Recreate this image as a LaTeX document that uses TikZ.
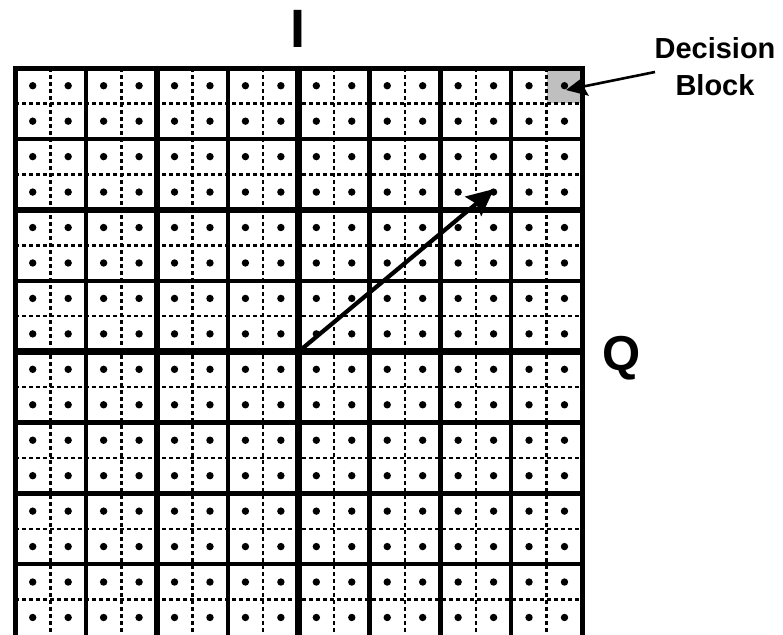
\documentclass[tikz,border=0pt]{standalone}
\usepackage{fontspec}
\setmainfont{Liberation Sans}
\usetikzlibrary{arrows.meta}
\begin{document}
\begin{tikzpicture}[x=1pt,y=-1pt,
  subline/.style={line width=2.6pt, dash pattern=on 4.4pt off 2.6pt},
  blockline/.style={line width=4.2pt},
  midline/.style={line width=5.8pt},
  axisline/.style={line width=6.5pt},
  borderline/.style={line width=5pt},
  dotmark/.style={fill=black},
  lab/.style={inner sep=0pt, font=\bfseries},
  bigarrow/.style={line width=4.2pt, -{Stealth[length=27pt,width=25pt,inset=4pt]}},
  smallarrow/.style={line width=2.6pt, -{Stealth[length=21pt,width=20pt,inset=3pt]}}]
\useasboundingbox (0,0) rectangle (783,634);
\clip (0,0) rectangle (783,634);
% decision block fill
\fill[gray!50] ({15+15*35.45},68) rectangle ({15+16*35.45},{68+35.45});
% dashed sub-lines
\foreach \i in {1,3,...,15} {
  \draw[subline] ({15+\i*35.45},68) -- ({15+\i*35.45},650);
  \draw[subline] (15,{68+\i*35.45}) -- ({15+16*35.45},{68+\i*35.45});
}
% block lines
\foreach \k in {1,3,5,7} {
  \draw[blockline] ({15+\k*70.9},68) -- ({15+\k*70.9},650);
  \draw[blockline] (15,{68+\k*70.9}) -- ({15+8*70.9},{68+\k*70.9});
}
\foreach \k in {2,6} {
  \draw[midline] ({15+\k*70.9},68) -- ({15+\k*70.9},650);
  \draw[midline] (15,{68+\k*70.9}) -- ({15+8*70.9},{68+\k*70.9});
}
\draw[axisline] ({15+4*70.9},68) -- ({15+4*70.9},650);
\draw[axisline] (15,{68+4*70.9}) -- ({15+8*70.9},{68+4*70.9});
% border
\draw[borderline] (15,650) -- (15,68) -- ({15+8*70.9},68) -- ({15+8*70.9},650);
% dots
\foreach \i in {0,...,15} {
  \foreach \j in {0,...,15} {
    \fill[dotmark] ({15+(\i+0.5)*35.45},{68+(\j+0.5)*35.45}) circle (3.7pt);
  }
}
% labels
\node[lab, anchor=base, font=\bfseries\fontsize{54}{54}\selectfont] (ilab) at (298,48) {I};
\node[lab, anchor=base, font=\bfseries\fontsize{49}{49}\selectfont] (qlab) at (622,370) {Q};
\node[lab, anchor=north, align=center, font=\bfseries\fontsize{29}{37}\selectfont] (dlab) at (715,37) {Decision\\Block};
% arrows
\coordinate (origin) at ({15+4*70.9},{68+4*70.9});
\coordinate (target) at (494,189);
\draw[bigarrow] (origin) -- (target);
\coordinate (dstart) at (655,72);
\coordinate (dend) at (566,90);
\draw[smallarrow] (dstart) -- (dend);
\end{tikzpicture}
\end{document}
